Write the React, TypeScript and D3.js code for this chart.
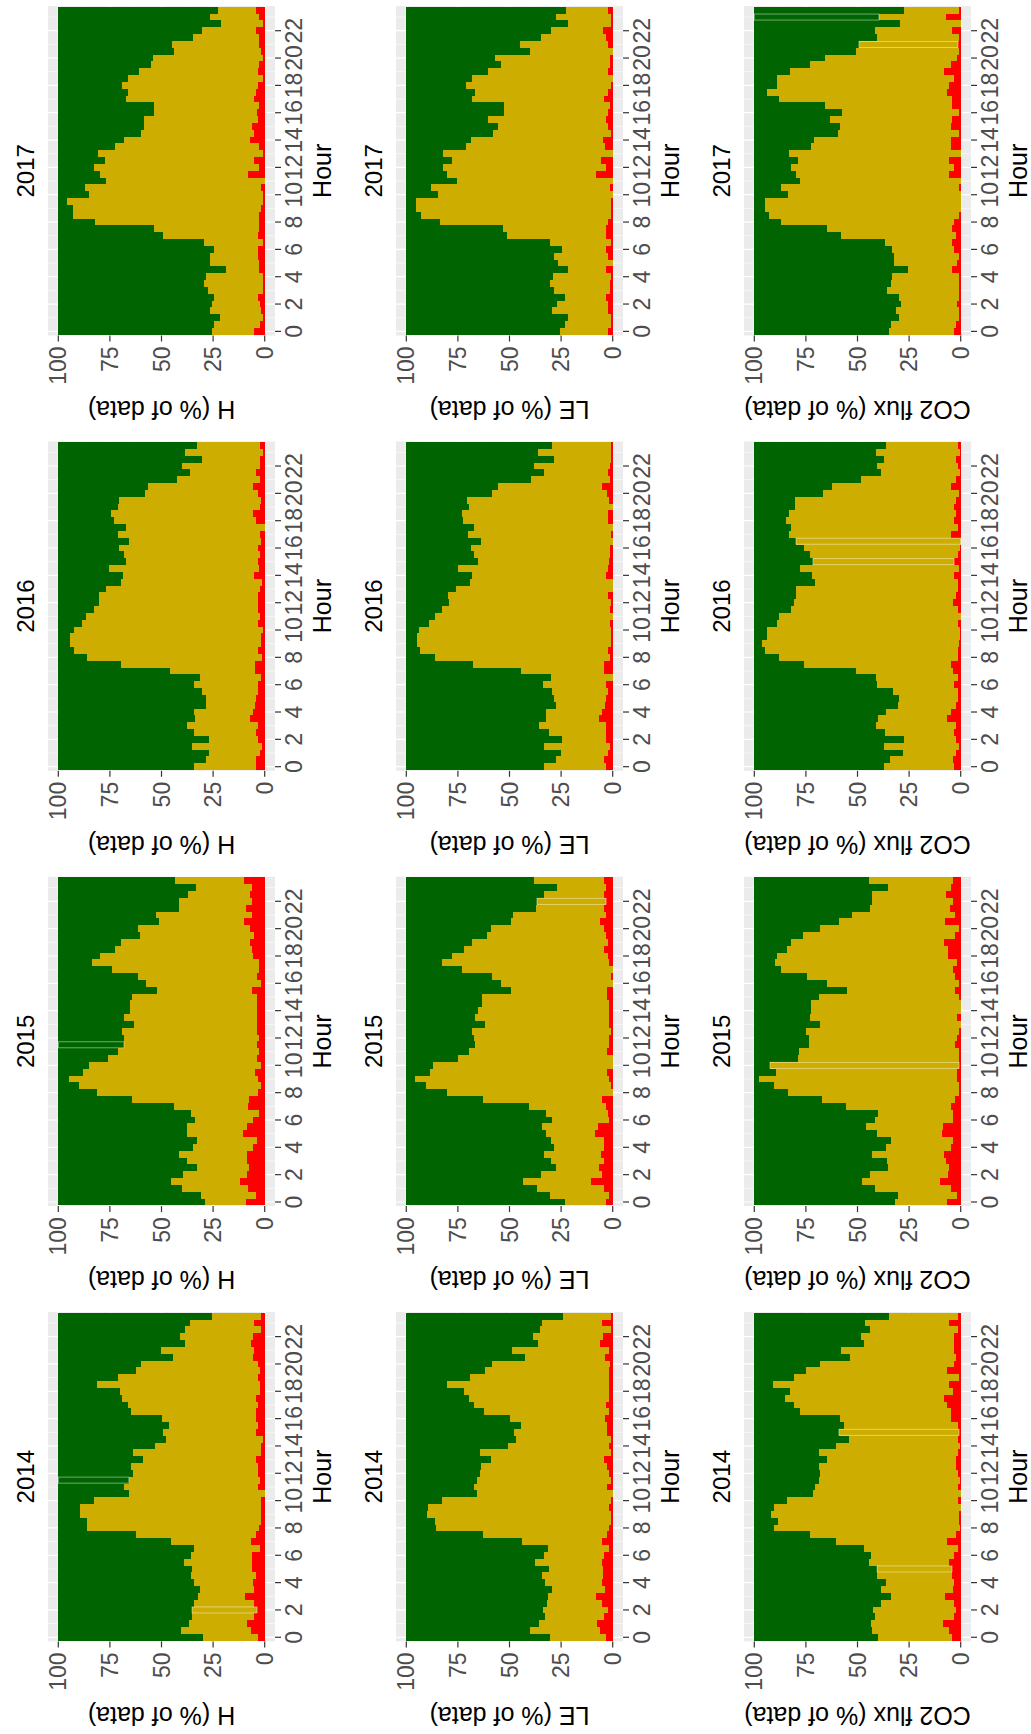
import React from "react";
import * as d3 from "d3";

// ---------- categories ----------
const YEARS = ["2014", "2015", "2016", "2017"];
const VARIABLES = ["H", "LE", "CO2 flux"];
const HOURS = d3.range(48).map((i) => i / 2);
const VALUE_TICKS = [0, 25, 50, 75, 100];
const HOUR_TICKS = d3.range(0, 24, 2);

// ---------- data: red share (%) and red+gold cumulative share (%) per half hour ----------
const H2014_RED = [3.2, 6.6, 8.6, 5.2, 3.7, 5.2, 9.5, 5.2, 5.7, 4.2, 6.1, 6.1, 6.1, 2.3, 6.6, 4.2, 2.7, 1.8, 1.8, 1.8, 1.8, 0, 3.2, 2.3, 3.2, 3.2, 4.2, 1.8, 1.8, 0.8, 4.2, 3.2, 4.2, 4.2, 3.2, 4.2, 2.3, 2.3, 3.2, 2.3, 3.2, 5.7, 5.2, 6.6, 5.7, 1.8, 5.2, 1.8];
const H2014_CUM = [29.9, 40.5, 36.7, 35.2, 35.2, 34.2, 32.3, 31.3, 34.2, 35.7, 35.2, 39.1, 35.7, 34.2, 45.4, 62.4, 86.1, 86.1, 89.5, 89.5, 82.7, 65.8, 68.2, 65.8, 63.8, 64.8, 59.0, 63.8, 53.2, 47.8, 49.3, 46.4, 49.8, 64.8, 66.2, 69.1, 70.1, 81.3, 71.1, 62.4, 59.9, 44.4, 50.2, 38.6, 41.0, 38.6, 36.2, 25.5];
const H2015_RED = [9.0, 4.2, 8.1, 12.0, 8.6, 7.6, 8.6, 8.6, 5.7, 3.7, 10.5, 8.6, 5.7, 2.7, 8.1, 7.6, 3.2, 1.8, 3.2, 4.7, 1.8, 3.7, 2.7, 3.7, 2.7, 3.7, 3.7, 3.7, 3.7, 3.7, 3.7, 6.1, 1.8, 3.7, 2.7, 2.7, 5.7, 6.1, 7.1, 5.2, 7.1, 10.0, 6.1, 9.0, 6.1, 7.1, 6.1, 10.0];
const H2015_CUM = [28.9, 30.9, 40.1, 45.4, 39.6, 32.8, 37.6, 41.5, 34.7, 32.8, 37.6, 37.6, 33.8, 35.7, 43.9, 64.3, 81.3, 90.0, 94.8, 88.0, 85.1, 75.9, 71.1, 68.2, 68.2, 69.1, 63.3, 68.2, 65.3, 65.3, 64.3, 52.2, 57.5, 61.4, 74.0, 83.7, 79.8, 72.5, 69.6, 60.4, 61.4, 51.2, 52.7, 41.5, 41.5, 37.2, 33.3, 43.5];
const H2016_RED = [4.2, 4.2, 2.3, 1.3, 3.2, 4.2, 3.2, 7.1, 5.7, 4.7, 4.2, 3.2, 3.2, 1.8, 4.7, 4.7, 1.3, 3.2, 1.8, 1.8, 0.8, 3.2, 2.3, 3.2, 3.2, 3.2, 2.3, 1.3, 5.2, 2.7, 3.2, 2.3, 3.2, 1.8, 2.3, 0, 4.2, 5.7, 2.3, 1.8, 3.2, 5.7, 2.3, 4.2, 2.3, 2.3, 0.8, 2.3];
const H2016_CUM = [34.2, 28.4, 27.0, 35.2, 27.0, 34.2, 37.6, 33.8, 34.2, 28.4, 28.4, 30.4, 34.2, 31.3, 45.9, 69.6, 86.1, 92.4, 94.3, 94.3, 92.4, 88.5, 86.6, 82.7, 80.3, 80.3, 76.9, 69.6, 68.7, 75.4, 67.2, 68.2, 70.6, 65.8, 71.1, 67.2, 73.0, 74.5, 71.1, 70.6, 58.0, 56.5, 42.5, 36.2, 40.1, 30.4, 38.6, 32.8];
const H2017_RED = [5.2, 2.3, 0.8, 1.8, 2.3, 3.2, 0.8, 0.8, 0.8, 2.7, 2.7, 3.2, 3.2, 0.8, 3.2, 2.7, 2.7, 2.7, 1.8, 0.8, 0.8, 1.8, 0, 8.1, 2.7, 5.2, 0.8, 2.7, 7.1, 5.2, 6.1, 3.2, 3.7, 2.7, 5.2, 4.2, 3.2, 0.8, 3.2, 2.7, 0.8, 1.8, 2.7, 2.7, 4.2, 0.8, 2.7, 4.2];
const H2017_CUM = [25.5, 24.6, 21.6, 26.5, 25.5, 24.6, 27.5, 29.4, 28.4, 18.7, 26.5, 26.5, 24.6, 29.4, 49.3, 53.6, 82.2, 92.9, 92.9, 95.8, 85.1, 87.1, 76.9, 79.8, 82.7, 77.4, 80.8, 72.5, 68.2, 59.9, 58.5, 58.5, 53.6, 53.6, 67.2, 66.2, 69.1, 66.2, 60.9, 55.1, 54.1, 43.9, 44.9, 34.7, 30.4, 21.2, 26.5, 22.6];

const LE2014_RED = [3.2, 6.1, 7.6, 4.2, 2.3, 5.2, 8.1, 3.7, 5.2, 4.7, 4.7, 5.2, 4.2, 1.8, 5.2, 2.7, 1.8, 0.8, 0.8, 1.8, 0.8, 0, 2.7, 0.8, 1.8, 2.7, 4.2, 0.8, 1.8, 0.8, 2.7, 2.7, 3.7, 1.8, 3.2, 1.8, 1.8, 1.8, 1.8, 1.8, 1.3, 3.7, 1.8, 6.1, 4.7, 0.8, 5.2, 0.8];
const LE2014_CUM = [30.4, 40.1, 35.7, 32.8, 33.8, 31.8, 31.3, 29.4, 32.8, 34.2, 30.9, 37.6, 33.3, 31.3, 43.9, 62.8, 85.6, 86.1, 90.0, 89.5, 82.7, 65.8, 67.2, 65.8, 64.3, 63.8, 59.0, 64.3, 50.7, 46.8, 47.8, 44.4, 49.8, 62.4, 67.2, 69.6, 72.1, 80.3, 69.1, 61.9, 58.5, 42.5, 48.8, 36.2, 38.6, 35.2, 34.2, 24.1];
const LE2015_RED = [3.2, 1.8, 4.2, 10.5, 5.2, 6.6, 4.2, 5.7, 4.2, 4.2, 8.6, 7.1, 1.8, 2.3, 3.2, 5.2, 0, 0.8, 1.8, 2.7, 0, 0, 2.7, 1.8, 1.8, 0.8, 1.8, 1.8, 1.8, 1.8, 2.7, 2.7, 0, 0.8, 0, 1.8, 2.3, 4.2, 2.3, 3.2, 4.2, 6.1, 3.2, 4.2, 3.2, 4.2, 3.2, 4.2];
const LE2015_CUM = [23.1, 30.4, 36.7, 43.5, 34.7, 27.5, 29.9, 33.3, 28.4, 29.9, 32.3, 34.2, 29.4, 32.3, 40.5, 62.8, 80.3, 90.5, 95.8, 88.5, 87.1, 75.0, 69.6, 66.7, 67.2, 68.2, 61.9, 66.7, 65.3, 63.3, 63.3, 49.3, 54.1, 58.5, 73.0, 82.7, 77.9, 72.1, 68.2, 60.9, 59.0, 49.3, 48.3, 37.2, 36.7, 33.3, 27.0, 38.1];
const LE2016_RED = [3.2, 4.2, 2.3, 1.3, 3.2, 3.2, 3.2, 6.6, 5.2, 3.7, 3.2, 2.3, 3.2, 0, 4.2, 4.2, 1.3, 2.3, 0.8, 0.8, 0.8, 1.3, 0, 1.3, 0.8, 2.3, 0, 0, 3.2, 2.3, 1.8, 1.3, 1.3, 0, 0.8, 0, 2.3, 2.3, 0, 1.8, 2.7, 5.2, 1.3, 2.3, 1.3, 0.8, 0.8, 0.8];
const LE2016_CUM = [33.3, 27.5, 25.0, 33.3, 24.6, 30.9, 35.7, 32.3, 32.3, 27.5, 28.4, 29.4, 33.8, 29.9, 44.4, 67.7, 86.1, 93.4, 94.8, 94.8, 93.9, 89.0, 86.1, 82.7, 79.3, 79.8, 75.9, 69.1, 68.2, 75.0, 65.3, 67.2, 68.7, 63.8, 70.1, 67.2, 72.5, 73.0, 69.6, 70.6, 58.5, 55.6, 39.6, 33.3, 38.1, 28.4, 36.2, 29.4];
const LE2017_RED = [2.3, 0.8, 0.8, 2.3, 2.3, 3.2, 1.3, 1.3, 0.8, 3.2, 0, 2.3, 3.2, 0.8, 3.2, 3.2, 2.3, 0.8, 0.8, 0.8, 0, 1.3, 0, 8.1, 3.2, 5.7, 0, 3.7, 4.7, 0.8, 2.3, 3.2, 2.3, 1.3, 4.2, 2.3, 0.8, 0, 2.3, 1.3, 1.3, 0, 2.3, 3.2, 4.7, 0.8, 0.8, 2.3];
const LE2017_CUM = [25.5, 23.1, 21.6, 29.4, 27.0, 23.1, 28.4, 30.4, 28.9, 21.6, 26.5, 28.4, 24.6, 30.4, 51.2, 53.2, 83.7, 92.9, 95.3, 95.3, 84.7, 88.0, 75.4, 80.3, 82.2, 77.9, 82.2, 71.1, 68.7, 58.0, 55.6, 60.4, 52.7, 52.7, 68.2, 66.7, 71.1, 68.2, 60.4, 54.1, 57.0, 40.1, 44.9, 34.7, 29.9, 21.6, 27.5, 22.6];

const CO2_2014_RED = [4.2, 5.7, 8.6, 3.2, 2.3, 3.2, 7.6, 3.7, 3.2, 4.2, 4.2, 5.7, 3.2, 1.3, 6.6, 2.3, 0.3, 0.8, 0.8, 0, 1.3, 0, 1.3, 0.3, 1.3, 2.3, 2.3, 1.3, 0.3, 1.3, 0.8, 1.3, 4.7, 4.7, 6.6, 8.1, 3.7, 5.7, 0.8, 6.6, 3.2, 2.3, 3.2, 3.2, 3.2, 1.3, 5.7, 1.3];
const CO2_2014_CUM = [40.1, 43.0, 43.5, 41.5, 42.5, 38.6, 33.8, 38.6, 36.2, 40.5, 40.5, 44.4, 43.5, 46.8, 60.4, 73.0, 90.5, 88.5, 91.9, 90.5, 84.2, 71.6, 70.6, 68.7, 68.2, 68.7, 64.8, 68.7, 60.4, 54.1, 59.0, 56.5, 58.5, 77.9, 80.8, 85.1, 82.7, 91.0, 80.8, 75.0, 68.2, 53.6, 58.0, 46.8, 48.3, 43.9, 46.4, 34.7];
const CO2_2015_RED = [6.6, 1.8, 4.7, 10.0, 6.1, 5.7, 7.1, 8.1, 4.7, 3.7, 9.0, 8.6, 3.7, 3.7, 4.7, 2.7, 0.8, 0.8, 1.8, 1.8, 0.8, 0.8, 0.8, 2.7, 1.8, 0.8, 0, 1.8, 0, 0, 0.8, 2.7, 0.8, 2.7, 3.7, 1.8, 6.1, 6.1, 8.1, 2.7, 0.8, 7.6, 2.7, 5.2, 3.7, 7.1, 4.7, 3.7];
const CO2_2015_CUM = [31.8, 30.4, 41.5, 47.8, 43.9, 35.2, 35.7, 43.0, 36.2, 33.8, 40.5, 45.9, 41.5, 40.1, 55.6, 67.2, 83.7, 90.5, 97.7, 89.5, 92.4, 78.8, 78.4, 73.5, 73.5, 75.0, 68.2, 73.0, 72.5, 72.5, 68.7, 55.1, 64.8, 74.5, 87.1, 90.0, 89.0, 84.2, 82.2, 76.4, 68.2, 59.0, 52.7, 43.9, 43.0, 43.0, 35.2, 44.4];
const CO2_2016_RED = [3.2, 3.7, 2.3, 0.8, 2.3, 3.2, 2.3, 6.6, 4.7, 2.3, 1.3, 1.3, 3.2, 1.3, 3.7, 4.7, 1.3, 1.3, 0.8, 0.3, 0.3, 1.3, 0, 1.3, 3.7, 2.3, 1.3, 1.3, 3.2, 0.8, 3.2, 1.3, 0.3, 0, 4.7, 1.3, 3.2, 2.3, 3.2, 2.3, 0.8, 4.7, 2.3, 0.3, 1.3, 2.3, 0.3, 1.3];
const CO2_2016_CUM = [37.2, 34.2, 27.9, 37.2, 27.5, 36.7, 41.0, 40.1, 36.2, 30.4, 29.9, 32.8, 40.5, 41.0, 50.7, 75.9, 88.0, 94.8, 96.3, 93.9, 93.9, 89.0, 88.0, 82.2, 80.8, 79.8, 79.8, 70.6, 72.1, 77.9, 71.6, 73.0, 75.9, 79.8, 83.2, 82.2, 84.7, 83.2, 80.3, 80.3, 66.7, 62.4, 48.3, 38.6, 40.5, 37.2, 41.0, 36.2];
const CO2_2017_RED = [3.2, 2.3, 0.8, 0.8, 1.8, 0.8, 0.8, 0.8, 0.8, 4.2, 1.8, 0.8, 3.2, 4.2, 2.3, 4.2, 3.2, 0.8, 0, 0, 0, 0.8, 0, 5.7, 3.2, 5.7, 0, 4.7, 4.7, 0.8, 4.7, 4.2, 0.8, 4.2, 4.2, 6.6, 5.7, 3.2, 8.1, 4.7, 1.8, 0.8, 1.3, 0.8, 4.2, 0, 7.1, 0.8];
const CO2_2017_CUM = [34.7, 33.8, 29.9, 31.3, 28.9, 29.9, 35.7, 33.8, 33.3, 25.5, 32.3, 32.3, 33.3, 36.7, 58.0, 64.8, 87.1, 92.9, 94.8, 94.8, 83.7, 87.1, 77.9, 79.8, 82.2, 78.8, 83.2, 72.5, 71.1, 59.5, 58.5, 63.3, 57.5, 65.8, 88.0, 93.9, 89.0, 89.0, 82.7, 73.0, 65.8, 50.7, 49.3, 40.5, 41.5, 29.4, 39.6, 27.5];

// bars whose segment is drawn with a white outline: [variable, year, half-hour index, segment]
const OUTLINED: [number, number, number, string][] = [
  [0, 0, 23, "green"], [0, 0, 4, "gold"], [0, 1, 23, "green"],
  [1, 1, 44, "gold"],
  [2, 0, 30, "gold"], [2, 0, 10, "gold"], [2, 1, 20, "gold"],
  [2, 2, 33, "gold"], [2, 2, 30, "gold"], [2, 3, 46, "green"], [2, 3, 42, "gold"],
];

const RED = [
  [H2014_RED, H2015_RED, H2016_RED, H2017_RED],
  [LE2014_RED, LE2015_RED, LE2016_RED, LE2017_RED],
  [CO2_2014_RED, CO2_2015_RED, CO2_2016_RED, CO2_2017_RED],
];
const CUM = [
  [H2014_CUM, H2015_CUM, H2016_CUM, H2017_CUM],
  [LE2014_CUM, LE2015_CUM, LE2016_CUM, LE2017_CUM],
  [CO2_2014_CUM, CO2_2015_CUM, CO2_2016_CUM, CO2_2017_CUM],
];

const KEYS = ["red", "gold", "green"];
const COLORS: Record<string, string> = { red: "#FF0000", gold: "#CDAD00", green: "#006400" };

// ---------- layout (in the un-rotated frame: 1734 wide, 1031 tall) ----------
const FW = 1734;
const BAR_X0 = 93.3;
const COL_STEP = 435.3;
const BAR_W = 328;
const Y100 = 58.3;
const Y0 = 264.7;
const ROW_STEP = 348;
const FONT = "'Liberation Sans', Arial, Helvetica, sans-serif";
const TICK_FS = 23;
const AXIS_FS = 25;
const TITLE_FS = 24;
const TICK_LEN = 6;

function Panel({ r, j }: { r: number; j: number }) {
  const red = RED[r][j];
  const cum = CUM[r][j];
  const bx0 = BAR_X0 + j * COL_STEP;
  const x = d3.scaleLinear().domain([-0.25, 23.75]).range([bx0, bx0 + BAR_W]);
  const y = d3.scaleLinear().domain([0, 100]).range([Y0 + r * ROW_STEP, Y100 + r * ROW_STEP]);
  const px0 = x(-0.3);
  const px1 = x(23.8);
  const pyTop = y(105);
  const pyBot = y(-5);
  const rows = HOURS.map((h, i) => ({ hour: h, red: red[i], gold: cum[i] - red[i], green: 100 - cum[i] }));
  const series = d3.stack<any>().keys(KEYS)(rows);
  const bw = x(0.5) - x(0);
  const cx = (px0 + px1) / 2;
  const cy = (pyTop + pyBot) / 2;
  const minorV = [12.5, 37.5, 62.5, 87.5];
  const minorH = d3.range(1, 24, 2);
  const outl = OUTLINED.filter((o) => o[0] === r && o[1] === j);

  return (
    <g>
      <rect x={px0} y={pyTop} width={px1 - px0} height={pyBot - pyTop} fill="#EBEBEB" />
      {minorV.map((v) => (
        <line key={"mv" + v} x1={px0} x2={px1} y1={y(v)} y2={y(v)} stroke="#fff" strokeWidth={0.6} />
      ))}
      {minorH.map((h) => (
        <line key={"mh" + h} x1={x(h)} x2={x(h)} y1={pyTop} y2={pyBot} stroke="#fff" strokeWidth={0.6} />
      ))}
      {VALUE_TICKS.map((v) => (
        <line key={"gv" + v} x1={px0} x2={px1} y1={y(v)} y2={y(v)} stroke="#fff" strokeWidth={1.2} />
      ))}
      {HOUR_TICKS.map((h) => (
        <line key={"gh" + h} x1={x(h)} x2={x(h)} y1={pyTop} y2={pyBot} stroke="#fff" strokeWidth={1.2} />
      ))}
      {series.map((s) => (
        <g key={s.key} fill={COLORS[s.key]} shapeRendering="crispEdges">
          {s.map((d: any, i: number) => {
            const h = y(d[0]) - y(d[1]);
            if (h <= 0) return null;
            return <rect key={i} x={x(HOURS[i]) - bw / 2} y={y(d[1])} width={bw} height={h} />;
          })}
        </g>
      ))}
      {outl.map((o, k) => {
        const s = series[KEYS.indexOf(o[3])];
        const d = s[o[2]];
        return (
          <rect key={"o" + k} x={x(HOURS[o[2]]) - bw / 2 + 0.4} y={y(d[1])} width={bw - 0.8} height={y(d[0]) - y(d[1])}
            fill="none" stroke="#fff" strokeOpacity={0.55} strokeWidth={0.8} />
        );
      })}
      {VALUE_TICKS.map((v) => (
        <g key={"tv" + v}>
          <line x1={px0 - TICK_LEN} x2={px0} y1={y(v)} y2={y(v)} stroke="#333" strokeWidth={1.2} />
          <text x={px0 - TICK_LEN - 5} y={y(v)} dy="0.35em" textAnchor="end" fontSize={TICK_FS} fill="#4D4D4D" fontFamily={FONT}>
            {v}
          </text>
        </g>
      ))}
      {HOUR_TICKS.map((h) => (
        <g key={"th" + h}>
          <line x1={x(h)} x2={x(h)} y1={pyBot} y2={pyBot + TICK_LEN} stroke="#333" strokeWidth={1.2} />
          <text x={x(h)} y={pyBot + TICK_LEN + 4} dy="0.75em" textAnchor="middle" fontSize={TICK_FS} fill="#4D4D4D" fontFamily={FONT}>
            {h}
          </text>
        </g>
      ))}
      <text x={cx} y={pyTop - 14} textAnchor="middle" fontSize={TITLE_FS} fill="#000" fontFamily={FONT}>
        {YEARS[j]}
      </text>
      <text x={cx} y={pyBot + TICK_LEN + 4 + TICK_FS + 4} dy="0.75em" textAnchor="middle" fontSize={AXIS_FS} fill="#000" fontFamily={FONT}>
        Hour
      </text>
      <text transform={`translate(${bx0 - 66},${cy}) rotate(-90)`} textAnchor="middle" fontSize={AXIS_FS} fill="#000" fontFamily={FONT}>
        {VARIABLES[r] + " (% of data)"}
      </text>
    </g>
  );
}

export default function App() {
  return (
    <svg width={1031} height={1734} style={{ position: "absolute", left: 0, top: 0, display: "block", background: "#fff" }}>
      <rect width={1031} height={1734} fill="#fff" />
      <g transform={`translate(0,${FW}) rotate(-90)`}>
        {VARIABLES.map((_, r) => YEARS.map((__, j) => <Panel key={r + "-" + j} r={r} j={j} />))}
      </g>
    </svg>
  );
}
